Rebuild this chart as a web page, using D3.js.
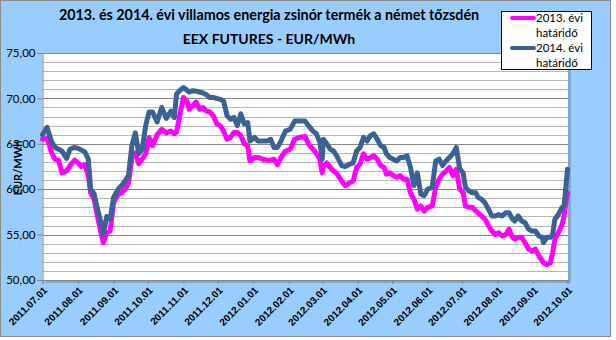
<!DOCTYPE html>
<html>
<head>
<meta charset="utf-8">
<script src="https://cdn.jsdelivr.net/npm/d3@7"></script>
<style>
  body { margin: 0; background: #fff; }
  svg { display: block; font-family: Lato, "Open Sans", sans-serif; }
</style>
</head>
<body>
<svg id="chart" width="616" height="340"></svg>
<script>
// trading dates (sampled) and futures prices, EUR/MWh
var dates = [
  "2011-07-01","2011-07-05","2011-07-09","2011-07-12","2011-07-15","2011-07-18","2011-07-22","2011-07-25","2011-07-29",
  "2011-08-01","2011-08-04","2011-08-07","2011-08-10","2011-08-12","2011-08-15","2011-08-18","2011-08-21","2011-08-23","2011-08-26","2011-08-29",
  "2011-09-01","2011-09-05","2011-09-08","2011-09-11","2011-09-14","2011-09-17","2011-09-20","2011-09-23","2011-09-26","2011-09-29",
  "2011-10-02","2011-10-05","2011-10-09","2011-10-13","2011-10-17","2011-10-21","2011-10-24","2011-10-26","2011-10-29",
  "2011-11-01","2011-11-04","2011-11-06","2011-11-09","2011-11-12","2011-11-15","2011-11-18","2011-11-21","2011-11-24","2011-11-27","2011-11-30",
  "2011-12-03","2011-12-06","2011-12-09","2011-12-12","2011-12-15","2011-12-18","2011-12-21","2011-12-24","2011-12-27","2011-12-29",
  "2012-01-02","2012-01-05","2012-01-09","2012-01-13","2012-01-16","2012-01-19","2012-01-22","2012-01-25","2012-01-29",
  "2012-02-02","2012-02-06","2012-02-10","2012-02-15","2012-02-18","2012-02-22","2012-02-25","2012-02-28",
  "2012-03-01","2012-03-02","2012-03-05","2012-03-08","2012-03-11","2012-03-14","2012-03-18","2012-03-21","2012-03-25","2012-03-28","2012-03-31",
  "2012-04-03","2012-04-06","2012-04-09","2012-04-12","2012-04-15","2012-04-18","2012-04-21","2012-04-24","2012-04-26","2012-04-29",
  "2012-05-02","2012-05-05","2012-05-08","2012-05-11","2012-05-14","2012-05-17","2012-05-20","2012-05-23","2012-05-26","2012-05-29",
  "2012-06-01","2012-06-05","2012-06-08","2012-06-11","2012-06-14","2012-06-17","2012-06-20","2012-06-23","2012-06-26","2012-06-29",
  "2012-07-02","2012-07-04","2012-07-07","2012-07-10","2012-07-13","2012-07-15","2012-07-18","2012-07-21","2012-07-24","2012-07-27","2012-07-30",
  "2012-08-02","2012-08-05","2012-08-08","2012-08-11","2012-08-14","2012-08-16","2012-08-19","2012-08-22","2012-08-25","2012-08-28","2012-08-31",
  "2012-09-03","2012-09-06","2012-09-09","2012-09-10","2012-09-13","2012-09-16","2012-09-18","2012-09-20","2012-09-23","2012-09-26","2012-09-28","2012-09-29",
  "2012-10-01"
];

var values2013 = [
  65.5,65.6,64.0,63.3,63.2,61.8,62.0,62.6,63.2,
  62.9,62.5,62.7,61.5,59.6,58.9,57.0,55.2,54.1,55.2,55.4,
  58.5,59.4,59.6,60.0,60.7,63.5,64.0,62.8,63.3,63.9,
  65.7,64.8,66.0,66.6,66.2,66.4,66.1,66.3,68.3,
  70.1,69.7,68.8,69.2,69.6,68.8,69.0,68.6,68.5,68.1,67.2,
  67.0,66.4,65.5,65.7,66.25,66.25,65.9,65.0,64.8,63.1,
  63.5,63.5,63.3,63.2,63.2,63.3,62.7,63.5,64.2,
  64.4,65.5,65.7,65.8,65.0,64.4,63.9,63.3,
  61.8,62.5,62.9,62.4,62.0,61.7,60.9,60.4,60.7,60.9,62.4,
  62.75,63.9,63.3,63.5,63.7,63.3,62.6,62.4,61.65,61.8,
  61.5,61.3,61.5,61.1,61.1,59.6,58.9,57.8,58.15,57.6,
  58.0,58.15,60.2,61.1,61.65,62.0,62.4,61.5,62.2,60.0,
  59.6,58.15,58.0,58.0,57.6,57.4,57.05,56.7,56.0,55.4,55.0,
  55.2,54.85,55.0,55.6,54.7,54.5,54.7,54.7,54.1,53.4,53.2,
  53.4,52.65,52.1,51.9,51.7,51.9,53.0,54.5,55.2,56.0,57.0,58.0,
  59.6
];

var values2014 = [
  66.0,66.8,65.2,64.6,64.4,64.2,63.4,64.4,64.6,
  64.5,64.3,64.1,63.3,60.0,59.5,57.8,56.3,55.0,57.0,56.7,
  59.1,60.0,60.4,60.9,61.5,64.8,66.2,63.9,64.4,67.0,
  68.5,68.5,67.4,69.0,67.8,68.6,67.9,70.5,70.9,
  71.2,70.9,70.7,70.85,70.8,70.7,70.6,70.4,70.1,70.1,70.0,
  69.9,69.7,68.1,67.7,67.9,67.0,68.3,67.2,67.35,65.3,
  65.7,65.3,65.3,65.3,65.5,64.6,64.6,65.3,66.4,
  66.6,67.5,67.5,67.5,67.0,66.4,66.1,65.15,
  63.3,65.5,65.0,64.4,64.2,63.6,62.6,62.5,62.75,62.9,64.2,
  64.6,65.7,65.3,65.9,66.1,65.5,64.8,64.6,63.9,63.5,
  63.3,63.1,63.5,63.5,63.7,62.4,60.4,61.8,59.45,59.3,
  60.0,60.2,63.1,63.3,62.6,63.1,63.5,63.9,64.6,62.2,
  61.8,60.2,59.8,59.6,59.6,59.1,58.9,58.5,57.8,57.05,57.05,
  57.2,57.05,57.4,57.4,56.7,56.5,57.05,56.5,56.3,55.6,55.4,
  55.4,54.85,54.7,54.1,54.7,54.7,55.0,56.7,57.2,57.95,58.2,59.45,
  62.2
];

var seriesNames = ["2013. évi határidő", "2014. évi határidő"];
var seriesColors = ["#ff00ff", "#3a6394"];
var monthTicks = ["2011-07-01","2011-08-01","2011-09-01","2011-10-01","2011-11-01","2011-12-01",
  "2012-01-01","2012-02-01","2012-03-01","2012-04-01","2012-05-01","2012-06-01",
  "2012-07-01","2012-08-01","2012-09-01","2012-10-01"];
var yTicks = [50, 55, 60, 65, 70, 75];

var parse = d3.utcParse("%Y-%m-%d");
var svg = d3.select("#chart");

// chart background and border
svg.append("rect")
  .attr("x", 0.5).attr("y", 0.5)
  .attr("width", 610).attr("height", 336)
  .attr("fill", "#99ccff")
  .attr("stroke", "#8c8c8c");

var plot = { left: 42.5, right: 568, top: 53, bottom: 280 };

var x = d3.scaleUtc()
  .domain([parse("2011-07-01"), parse("2012-10-01")])
  .range([42.5, 567.5]);
var y = d3.scaleLinear().domain([50, 75]).range([plot.bottom, plot.top]);

// plot area with a soft shadow
svg.append("rect")
  .attr("x", plot.left + 3).attr("y", plot.top + 3)
  .attr("width", plot.right - plot.left).attr("height", plot.bottom - plot.top)
  .attr("fill", "#7fa9d6");
svg.append("rect")
  .attr("x", plot.left).attr("y", plot.top)
  .attr("width", plot.right - plot.left).attr("height", plot.bottom - plot.top)
  .attr("fill", "#fff");

// gridlines: every unit, darker every 5
svg.append("g").selectAll("line")
  .data(d3.range(51, 76))
  .enter().append("line")
  .attr("x1", plot.left).attr("x2", plot.right)
  .attr("y1", function (d) { return Math.round(y(d)) + 0.5; })
  .attr("y2", function (d) { return Math.round(y(d)) + 0.5; })
  .attr("stroke", function (d) { return d % 5 === 0 ? "#868686" : "#b8b8b8"; })
  .attr("stroke-width", 1);

// axes
var yAxis = svg.append("g")
  .attr("transform", "translate(" + plot.left + ",0)")
  .call(d3.axisLeft(y).tickValues(yTicks).tickSize(5)
    .tickFormat(function (d) { return d3.format(".2f")(d).replace(".", ","); }));
yAxis.select(".domain").attr("stroke", "#868686");
yAxis.selectAll(".tick line").attr("stroke", "#868686");
yAxis.selectAll("text")
  .attr("font-size", 11.5).attr("fill", "#000")
  .attr("font-family", "Lato, sans-serif")
  .attr("x", -7);

var xAxis = svg.append("g")
  .attr("transform", "translate(0," + plot.bottom + ")")
  .call(d3.axisBottom(x).tickValues(monthTicks.map(parse)).tickSize(4)
    .tickFormat(d3.utcFormat("%Y.%m.%d")));
xAxis.select(".domain").attr("stroke", "#868686");
xAxis.selectAll(".tick line").attr("stroke", "#868686");
xAxis.selectAll("text")
  .attr("font-size", 10).attr("font-weight", "bold").attr("fill", "#000")
  .attr("text-anchor", "end")
  .attr("dy", null).attr("y", null)
  .attr("transform", "translate(5,11) rotate(-45)");

// series lines
var line = d3.line()
  .x(function (d) { return x(d.date); })
  .y(function (d) { return y(d.value); });

[values2013, values2014].forEach(function (vals, i) {
  var pts = dates.map(function (d, j) { return { date: parse(d), value: vals[j] }; });
  svg.append("path")
    .datum(pts)
    .attr("d", line)
    .attr("fill", "none")
    .attr("stroke", seriesColors[i])
    .attr("stroke-width", 5)
    .attr("stroke-linejoin", "round")
    .attr("stroke-linecap", "round");
});

// titles
svg.append("text")
  .attr("x", 269).attr("y", 20)
  .attr("text-anchor", "middle")
  .attr("font-size", 14.3).attr("font-weight", "bold")
  .text("2013. és 2014. évi villamos energia zsinór termék a német tőzsdén");
svg.append("text")
  .attr("x", 269).attr("y", 44)
  .attr("text-anchor", "middle")
  .attr("font-size", 14).attr("font-weight", "bold")
  .text("EEX FUTURES - EUR/MWh");
svg.append("text")
  .attr("transform", "translate(22,168) rotate(-90)")
  .attr("text-anchor", "middle")
  .attr("font-size", 11).attr("font-weight", "bold")
  .text("EUR/MWh");

// legend
var legend = svg.append("g").attr("class", "legend");
legend.append("rect")
  .attr("x", 501.5).attr("y", 11.5)
  .attr("width", 90).attr("height", 58)
  .attr("fill", "#fff").attr("stroke", "#000");
seriesNames.forEach(function (name, i) {
  var ly = 18 + i * 30;
  legend.append("line")
    .attr("x1", 512).attr("x2", 534)
    .attr("y1", ly).attr("y2", ly)
    .attr("stroke", seriesColors[i]).attr("stroke-width", 4)
    .attr("stroke-linecap", "round");
  var parts = name.split(" ");
  legend.append("text")
    .attr("x", 536).attr("y", ly + 4)
    .attr("font-size", 11.5)
    .text(parts[0] + " " + parts[1]);
  legend.append("text")
    .attr("x", 536).attr("y", ly + 19)
    .attr("font-size", 11.5)
    .text(parts[2]);
});
</script>
</body>
</html>
